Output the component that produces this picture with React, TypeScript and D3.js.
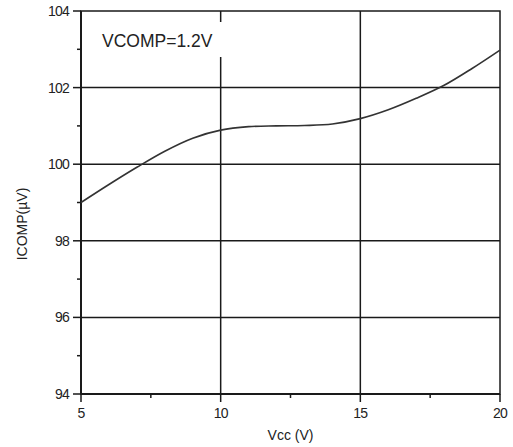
import React from 'react';
import * as d3 from 'd3';

// curve
const vcc = [5, 6, 7, 8, 9, 10, 11, 12, 13, 14, 15, 16, 17, 18, 19, 20];
const icomp = [99.0, 99.47, 99.92, 100.34, 100.68, 100.89, 100.98, 101.0, 101.01, 101.05, 101.19, 101.42, 101.72, 102.06, 102.5, 102.98];

const xTicks = [5, 10, 15, 20];
const xMinor = [7.5, 12.5, 17.5];
const yTicks = [94, 96, 98, 100, 102, 104];
const yMinor = [95, 97, 99, 101, 103];
const annotation = 'VCOMP=1.2V';
const xTitle = 'Vcc (V)';
const yTitle = 'ICOMP(\u00b5V)';

const W = 513;
const H = 447;
const margin = { top: 11, right: 13, bottom: 53, left: 81 };
const font = '"Liberation Sans", Arial, Helvetica, sans-serif';

export default function App() {
  const x = d3.scaleLinear().domain([5, 20]).range([margin.left, W - margin.right]);
  const y = d3.scaleLinear().domain([94, 104]).range([H - margin.bottom, margin.top]);

  const line = d3
    .line<number>()
    .x((d, i) => x(vcc[i]))
    .y((d) => y(d))
    .curve(d3.curveCatmullRom.alpha(0.5));

  const x0 = x(5);
  const x1 = x(20);
  const y0 = y(94);
  const y1 = y(104);
  const ink = '#1a1a1a';

  return (
    <div style={{ position: 'absolute', left: 0, top: 0 }}>
      <svg width={W} height={H} style={{ display: 'block', background: '#fff' }}>
        {/* grid */}
        {yTicks.filter((t) => t > 94 && t < 104).map((t) => (
          <line key={'gy' + t} x1={x0} x2={x1} y1={y(t)} y2={y(t)} stroke={ink} strokeWidth={1.5} />
        ))}
        {xTicks.filter((t) => t > 5 && t < 20).map((t) => (
          <line key={'gx' + t} x1={x(t)} x2={x(t)} y1={y0} y2={y1} stroke={ink} strokeWidth={1.5} />
        ))}

        {/* label box hides part of the grid */}
        <rect x={92} y={22} width={136} height={35} fill="#fff" />
        <text x={102} y={47} fontFamily={font} fontSize={17.5} fill="#222">
          {annotation}
        </text>

        {/* frame */}
        <rect x={x0} y={y1} width={x1 - x0} height={y0 - y1} fill="none" stroke={ink} strokeWidth={1.5} />
        <line x1={x0} x2={x0} y1={y1} y2={y0} stroke={ink} strokeWidth={2} />
        <line x1={x0} x2={x1} y1={y0} y2={y0} stroke={ink} strokeWidth={2} />

        {/* y ticks */}
        {yTicks.map((t) => (
          <g key={'yt' + t}>
            <line x1={x0 - 8} x2={x0} y1={y(t)} y2={y(t)} stroke={ink} strokeWidth={1.5} />
            <text x={x0 - 12} y={y(t) + 5} textAnchor="end" fontFamily={font} fontSize={14} letterSpacing={-0.8} fill="#222">
              {t}
            </text>
          </g>
        ))}
        {yMinor.map((t) => (
          <line key={'ym' + t} x1={x0 - 4} x2={x0} y1={y(t)} y2={y(t)} stroke={ink} strokeWidth={1.5} />
        ))}

        {/* x ticks */}
        {xTicks.map((t) => (
          <g key={'xt' + t}>
            <line x1={x(t)} x2={x(t)} y1={y0} y2={y0 + 8} stroke={ink} strokeWidth={1.5} />
            <text x={x(t)} y={y0 + 24} textAnchor="middle" fontFamily={font} fontSize={14} letterSpacing={-0.8} fill="#222">
              {t}
            </text>
          </g>
        ))}
        {xMinor.map((t) => (
          <line key={'xm' + t} x1={x(t)} x2={x(t)} y1={y0} y2={y0 + 4} stroke={ink} strokeWidth={1.5} />
        ))}

        {/* curve */}
        <path d={line(icomp) || ''} fill="none" stroke="#333" strokeWidth={1.6} />

        {/* axis titles */}
        <text x={(x0 + x1) / 2} y={440} textAnchor="middle" fontFamily={font} fontSize={14} fill="#222">
          {xTitle}
        </text>
        <text
          transform={`translate(27,224) rotate(-90)`}
          textAnchor="middle"
          fontFamily={font}
          fontSize={14}
          fill="#222"
        >
          {yTitle}
        </text>
      </svg>
    </div>
  );
}
